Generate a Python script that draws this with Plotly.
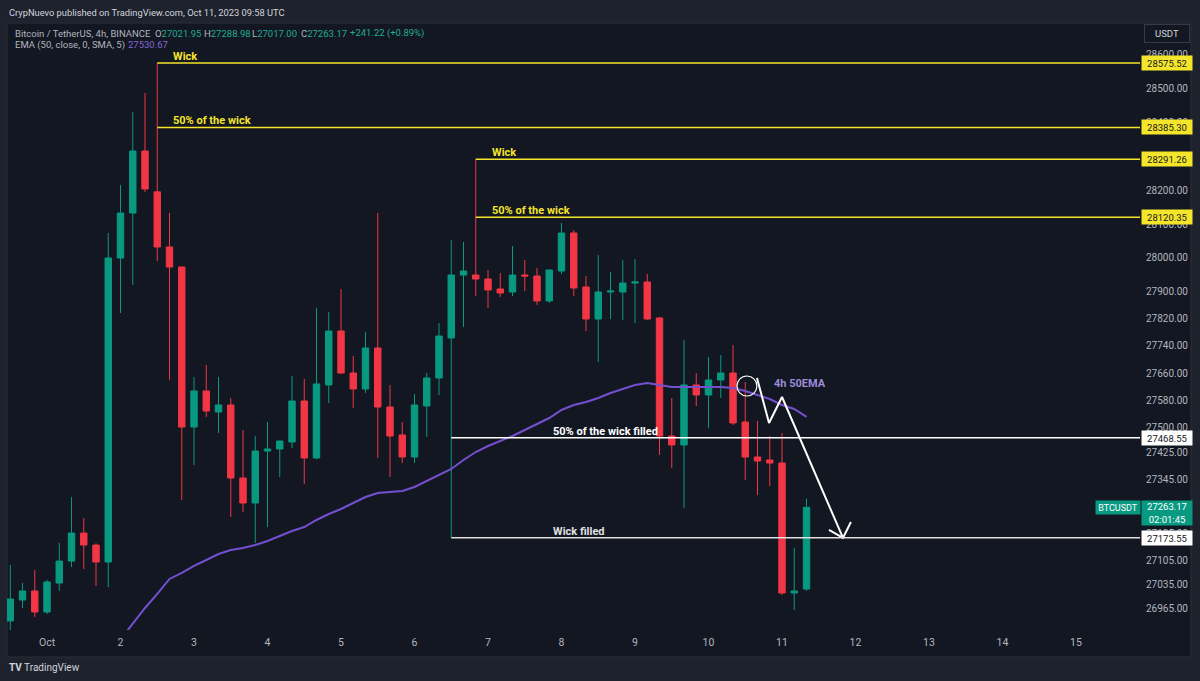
import pandas as pd
import plotly.graph_objects as go

W, H = 1200, 681
PANE_BG = "#131722"
OUTER_BG = "#1e222d"
UP = "#089981"
DOWN = "#f23645"
YELLOW = "#f5e52a"
EMA_COLOR = "#7450d0"
AXIS_TXT = "#b2b5be"
GREEN_TXT = "#22ab94"

# ---------------- data (BTCUSDT 4h) ----------------
candle_start = "2023-09-30 12:00"
candle_open = [
    26927.6, 26989.6, 27016.2, 26954.2, 27039.8, 27104.6, 27187.3, 27151.9, 27101.8, 27999.7,
    28132.5, 28315.7, 28195.08, 28032.2, 27973.1, 27500.5, 27606.9, 27544.9, 27565.5, 27349.9,
    27276.0, 27429.6, 27435.6, 27456.3, 27577.3, 27409.0, 27624.7, 27784.0, 27660.0, 27612.8,
    27733.8, 27559.6, 27476.9, 27411.9, 27562.6, 27645.3, 27763.55, 27949.4, 27949.44, 27937.6,
    27908.1, 27899.2, 27949.4, 27946.5, 27872.7, 27961.2, 28073.5, 27914.0, 27819.5, 27899.2,
    27899.2, 27925.8, 27928.8, 27822.5, 27473.9, 27447.4, 27624.7, 27595.0, 27639.4, 27660.0,
    27515.3, 27411.9, 27403.1, 27394.2, 27010.3, 27021.95]
candle_high = [
    27093.0, 27039.8, 27078.0, 27048.7, 27158.0, 27293.8, 27231.8, 27157.0, 28073.5, 28215.2,
    28430.9, 28487.0, 28575.52, 28132.5, 27975.0, 27648.3, 27683.6, 27648.3, 27586.2, 27491.7,
    27473.9, 27515.3, 27460.0, 27651.2, 27642.4, 27852.0, 27840.2, 27908.1, 27710.2, 27781.1,
    28132.5, 27624.7, 27515.3, 27598.0, 27660.0, 27807.6, 28052.8, 28046.9, 28291.26, 27964.2,
    27955.3, 28035.1, 27993.8, 27970.1, 27966.0, 28103.1, 28082.4, 27946.5, 28008.5, 27958.3,
    27993.8, 27996.7, 27952.4, 27825.0, 27586.2, 27757.5, 27660.0, 27707.2, 27713.1, 27742.7,
    27633.5, 27518.3, 27473.9, 27482.8, 27143.2, 27288.98]
candle_low = [
    26880.0, 26966.0, 26939.5, 26948.3, 27016.2, 27087.1, 27081.2, 27031.0, 27028.0, 27837.2,
    27919.9, 28194.5, 27990.8, 27639.4, 27284.9, 27388.3, 27530.1, 27482.8, 27234.7, 27249.5,
    27158.0, 27205.2, 27352.9, 27438.5, 27332.2, 27405.0, 27571.4, 27658.0, 27556.7, 27601.0,
    27409.0, 27352.9, 27394.2, 27394.2, 27471.0, 27595.0, 27173.55, 27795.9, 27887.5, 27852.0,
    27884.5, 27887.4, 27902.2, 27860.9, 27866.8, 27952.4, 27887.4, 27784.0, 27692.5, 27819.5,
    27816.6, 27807.6, 27817.0, 27417.9, 27379.4, 27261.3, 27562.6, 27497.6, 27586.2, 27506.5,
    27344.0, 27299.7, 27326.3, 27004.4, 26960.1, 27017.00]
candle_close = [
    26992.5, 27016.2, 26954.2, 27042.8, 27104.6, 27187.3, 27151.9, 27101.8, 27999.7, 28132.5,
    28315.7, 28203.4, 28032.2, 27973.1, 27500.5, 27606.9, 27547.8, 27565.5, 27349.9, 27276.0,
    27429.6, 27435.6, 27459.2, 27577.3, 27409.0, 27627.6, 27784.0, 27660.0, 27612.8, 27733.8,
    27559.6, 27473.9, 27411.9, 27565.5, 27645.3, 27769.2, 27949.4, 27961.2, 27937.6, 27905.2,
    27896.3, 27949.4, 27946.5, 27872.7, 27964.2, 28073.5, 27911.0, 27819.5, 27899.2, 27902.2,
    27925.8, 27928.8, 27819.5, 27473.9, 27447.4, 27624.7, 27595.0, 27639.4, 27660.0, 27512.4,
    27411.9, 27400.1, 27394.2, 27010.3, 27016.2, 27263.17]

# EMA(50) values, from the 9th candle on
ema_first_index = 8
ema_values = [
    26827.2, 26874.5, 26921.7, 26966.0, 27007.4, 27051.7, 27069.4, 27090.1, 27107.8, 27125.5,
    27137.3, 27143.2, 27152.1, 27163.9, 27178.7, 27193.4, 27205.2, 27225.9, 27243.6, 27258.4,
    27276.1, 27293.8, 27305.6, 27308.6, 27311.5, 27323.3, 27341.0, 27358.8, 27376.5, 27403.1,
    27426.7, 27444.4, 27459.2, 27473.9, 27491.7, 27509.4, 27527.1, 27550.7, 27565.5, 27574.4,
    27586.2, 27600.9, 27612.8, 27624.7, 27630.5, 27624.7, 27618.7, 27618.7, 27618.7, 27618.7,
    27618.7, 27615.8, 27606.9, 27595.0, 27583.2, 27565.5, 27553.7, 27530.67]

# horizontal levels drawn on the chart
level_prices = [28575.52, 28385.30, 28291.26, 28120.35, 27468.55, 27173.55]
level_start = ["2023-10-02 12:00", "2023-10-02 12:00", "2023-10-06 20:00", "2023-10-06 20:00",
               "2023-10-06 12:00", "2023-10-06 12:00"]
level_text = ["Wick", "50% of the wick", "Wick", "50% of the wick",
              "50% of the wick filled", "Wick filled"]
level_text_x = ["2023-10-02 16:30", "2023-10-02 16:30", "2023-10-07 00:40", "2023-10-07 00:40",
                "2023-10-07 20:35", "2023-10-07 20:35"]
level_color = [YELLOW, YELLOW, YELLOW, YELLOW, "#ffffff", "#e0e0e0"]

# header OHLC values
ohlc_labels = ["O", "H", "L", "C", ""]
ohlc_values = ["27021.95", "27288.98", "27017.00", "27263.17", "+241.22 (+0.89%)"]
ema_header_value = "27530.67"

# axis ticks (ticks fully hidden behind price labels are left out)
y_ticks = [28600, 28500, 28400, 28200, 28100, 28000, 27900, 27820, 27740, 27660,
           27580, 27500, 27425, 27345, 27185, 27105, 27035, 26965]
x_tick_dates = pd.date_range("2023-10-01", "2023-10-15", freq="D")
x_tick_labels = ["Oct"] + [str(d.day) for d in x_tick_dates[1:]]

# hand-drawn path (time, price) and circle
path_t = ["2023-10-10 15:50", "2023-10-10 19:46", "2023-10-11 00:00", "2023-10-11 19:55"]
path_p = [27645.3, 27512.4, 27589.1, 27173.0]
arrow_t = ["2023-10-11 15:20", "2023-10-11 19:55", "2023-10-11 22:30"]
arrow_p = [27196.4, 27173.0, 27220.0]
circle_t = ["2023-10-10 09:18", "2023-10-10 15:48"]
circle_p = [27592.1, 27651.2]

x_range = ["2023-09-30 10:56", "2023-10-15 20:54"]
y_range = [26901.0, 28693.7]

# ---------------- figure ----------------
times = pd.date_range(candle_start, periods=len(candle_open), freq="4h")
fig = go.Figure()

fig.add_trace(go.Candlestick(
    x=times, open=candle_open, high=candle_high, low=candle_low, close=candle_close,
    increasing=dict(line=dict(color=UP, width=1), fillcolor=UP),
    decreasing=dict(line=dict(color=DOWN, width=1), fillcolor=DOWN),
    whiskerwidth=0, hoverinfo="skip", showlegend=False))

fig.add_trace(go.Scatter(
    x=times[ema_first_index:], y=ema_values, mode="lines",
    line=dict(color=EMA_COLOR, width=2), hoverinfo="skip", showlegend=False))

# drawn path with arrow
fig.add_trace(go.Scatter(
    x=path_t + [None] + arrow_t, y=path_p + [None] + arrow_p, mode="lines",
    line=dict(color="#ffffff", width=2), hoverinfo="skip", showlegend=False,
    connectgaps=False))


def px(v):
    return v / W


def py(v):
    return 1 - v / H


shapes = []
# pane background
shapes.append(dict(type="rect", xref="paper", yref="paper", x0=px(7), x1=px(1191),
                   y0=py(657), y1=py(23), fillcolor=PANE_BG, line=dict(color="#2a2e39", width=1),
                   layer="below"))
for p, s, c in zip(level_prices, level_start, level_color):
    shapes.append(dict(type="line", xref="x", yref="y", x0=s, x1=x_range[1], y0=p, y1=p,
                       line=dict(color=c, width=1.5)))
shapes.append(dict(type="circle", xref="x", yref="y", x0=circle_t[0], x1=circle_t[1],
                   y0=circle_p[0], y1=circle_p[1], line=dict(color="#ffffff", width=1.2)))

annotations = []
for p, t, txt, c in zip(level_prices, level_text_x, level_text, level_color):
    annotations.append(dict(x=t, y=p, xref="x", yref="y", text=f"<b>{txt}</b>",
                            showarrow=False, xanchor="left", yanchor="bottom", yshift=-2,
                            font=dict(family="Roboto", size=11, color=c)))
    box_bg = YELLOW if c == YELLOW else "#ffffff"
    annotations.append(dict(x=px(1141), y=p, xref="paper", yref="y", text=f"{p:.2f}",
                            showarrow=False, xanchor="left", yanchor="middle",
                            width=48, height=12, bgcolor=box_bg, borderpad=1,
                            font=dict(family="Roboto", size=9.5, color="#131722")))

annotations.append(dict(x="2023-10-10 20:44", y=27630, xref="x", yref="y",
                        text="<b>4h 50EMA</b>", showarrow=False, xanchor="left", yanchor="middle",
                        font=dict(family="Roboto", size=11, color="#9a8bd8")))

# last price labels
last_price = candle_close[-1]
annotations.append(dict(x=px(1141), y=last_price, xref="paper", yref="y",
                        text=f"{last_price:.2f}<br>02:01:45", showarrow=False,
                        xanchor="left", yanchor="top", yshift=7, width=48, height=22,
                        bgcolor=UP, borderpad=1, align="center",
                        font=dict(family="Roboto", size=9.5, color="#ffffff")))
annotations.append(dict(x=px(1095), y=last_price, xref="paper", yref="y", text="BTCUSDT",
                        showarrow=False, xanchor="left", yanchor="middle", width=42, height=11,
                        bgcolor=UP, borderpad=1,
                        font=dict(family="Roboto", size=9, color="#ffffff")))

# USDT box
annotations.append(dict(x=px(1144), y=py(33), xref="paper", yref="paper", text="USDT",
                        showarrow=False, xanchor="left", yanchor="middle", width=42, height=15,
                        bgcolor=PANE_BG, bordercolor="#363a45", borderwidth=1, borderpad=1,
                        font=dict(family="Roboto", size=9.5, color="#d1d4dc")))

# header texts
annotations.append(dict(x=px(7), y=py(12), xref="paper", yref="paper",
                        text="CrypNuevo published on TradingView.com, Oct 11, 2023 09:58 UTC",
                        showarrow=False, xanchor="left", yanchor="middle",
                        font=dict(family="Roboto", size=9.3, color="#d1d4dc")))
annotations.append(dict(x=px(13), y=py(33), xref="paper", yref="paper",
                        text="Bitcoin / TetherUS, 4h, BINANCE",
                        showarrow=False, xanchor="left", yanchor="middle",
                        font=dict(family="Roboto", size=9.5, color=AXIS_TXT)))
for i, (lab, val) in enumerate(zip(ohlc_labels, ohlc_values)):
    annotations.append(dict(x=px(153 + 48.7 * i), y=py(33), xref="paper", yref="paper",
                            text=f"{lab}<span style='color:{GREEN_TXT}'>{val}</span>",
                            showarrow=False, xanchor="left", yanchor="middle",
                            font=dict(family="Roboto", size=9.5, color=AXIS_TXT)))
annotations.append(dict(x=px(13), y=py(45), xref="paper", yref="paper",
                        text="EMA (50, close, 0, SMA, 5)",
                        showarrow=False, xanchor="left", yanchor="middle",
                        font=dict(family="Roboto", size=9.5, color=AXIS_TXT)))
annotations.append(dict(x=px(126), y=py(45), xref="paper", yref="paper",
                        text=ema_header_value, showarrow=False, xanchor="left",
                        yanchor="middle", font=dict(family="Roboto", size=9.5, color="#8466d6")))
# footer
annotations.append(dict(x=px(7), y=py(667), xref="paper", yref="paper",
                        text="<b>TV</b> TradingView", showarrow=False, xanchor="left",
                        yanchor="middle", font=dict(family="Roboto", size=10, color="#d1d4dc")))

fig.update_layout(
    width=W, height=H, margin=dict(l=0, r=0, t=0, b=0),
    paper_bgcolor=OUTER_BG, plot_bgcolor=PANE_BG,
    boxgap=0.25, hovermode=False, showlegend=False,
    shapes=shapes, annotations=annotations,
    xaxis=dict(domain=[px(7), px(1140)], range=x_range, type="date",
               rangeslider=dict(visible=False), showgrid=False, zeroline=False,
               showline=False, ticks="", tickvals=x_tick_dates, ticktext=x_tick_labels,
               tickfont=dict(family="Roboto", size=10.5, color=AXIS_TXT), automargin=False,
               ticklabelstandoff=4, fixedrange=True),
    yaxis=dict(domain=[1 - 630 / H, 1 - 23 / H], range=y_range, side="right",
               showgrid=False, zeroline=False, showline=False, ticks="",
               tickvals=y_ticks, ticktext=[f"{v:.2f}" for v in y_ticks],
               tickfont=dict(family="Roboto", size=10, color=AXIS_TXT),
               ticklabelstandoff=5, automargin=False, fixedrange=True),
)

fig.write_html("out.html", config={"displayModeBar": False},
               post_script="document.body.style.margin='0';")
